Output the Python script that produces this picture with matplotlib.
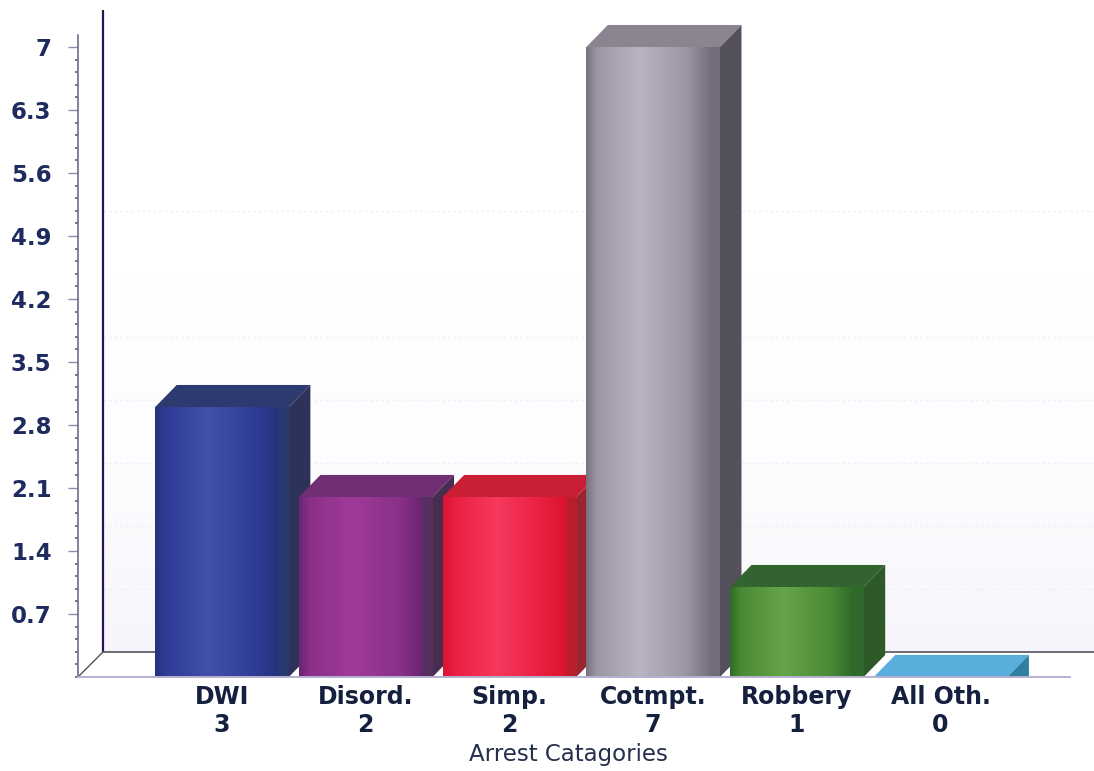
#!/usr/bin/env python
import numpy as np
import matplotlib
matplotlib.use('Agg')
import matplotlib.pyplot as plt
from matplotlib.colors import LinearSegmentedColormap
from matplotlib.patches import Polygon

categories = ['DWI', 'Disord.', 'Simp.', 'Cotmpt.', 'Robbery', 'All Oth.']
values = [3, 2, 2, 7, 1, 0]
tick_values = [0.7, 1.4, 2.1, 2.8, 3.5, 4.2, 4.9, 5.6, 6.3, 7]
tick_labels = ['0.7', '1.4', '2.1', '2.8', '3.5', '4.2', '4.9', '5.6', '6.3', '7']
grid_values = [0.7, 1.4, 2.1, 2.8, 3.5, 4.9]

# edge, body, highlight, right strip, top, side
bar_colors = [
    ['#26337a', '#2f3c96', '#4350aa', '#28396f', '#2c3a70', '#2d3358'],
    ['#6a2570', '#8a3088', '#a03a98', '#55305f', '#6f2f72', '#4a2c50'],
    ['#d9142f', '#ea1e40', '#f5395e', '#b81f2c', '#c81f35', '#9a2530'],
    ['#787280', '#9c96a4', '#bab3c3', '#726d7a', '#8a8590', '#54505c'],
    ['#2f6a28', '#4a8a36', '#66a448', '#2f6a2c', '#33632e', '#2e5a28'],
    ['#4f9fd0', '#4f9fd0', '#5aaedc', '#4f9fd0', '#5aaedc', '#2f7fa0'],
]

bar_width = 0.93
depth_x = 0.15
depth_y = 0.245
wall_x = -0.828
wall_y = 0.278
x_lim = (-1.002, 6.068)
y_lim = (0, 7.467)

fig = plt.figure(figsize=(10.94, 7.71), dpi=100)
ax = fig.add_axes([78 / 1094, 94 / 771, 1016 / 1094, 672 / 771])

# back wall
wall_shade = LinearSegmentedColormap.from_list('wall', ['#f7f5fb', '#fdfcfe', '#ffffff'])
ax.imshow(np.linspace(0, 1, 256).reshape(-1, 1), cmap=wall_shade, aspect='auto', origin='lower',
          extent=(wall_x, x_lim[1], wall_y, 4.5), zorder=0)
for t in grid_values:
    ax.plot([wall_x, x_lim[1]], [t + wall_y, t + wall_y], color='#f0eff4', lw=1, ls=(0, (2, 2)), zorder=1)
ax.plot([wall_x, wall_x], [wall_y, 7.41], color='#2a1458', lw=1.6, zorder=2, solid_capstyle='butt')
ax.plot([wall_x, x_lim[1]], [wall_y, wall_y], color='#55525e', lw=1.2, zorder=2)
ax.plot([x_lim[0], wall_x], [0, wall_y], color='#55525e', lw=1, zorder=2)

for i, v in enumerate(values):
    left = i - bar_width / 2
    right = i + bar_width / 2
    c_edge, c_body, c_light, c_strip, c_top, c_side = bar_colors[i]
    z = 3 + i
    if v > 0:
        side = [(right, 0), (right + depth_x, depth_y), (right + depth_x, v + depth_y), (right, v)]
    else:
        # flat bar, only a wedge is left of the side
        side = [(right, 0), (right + depth_x, depth_y), (right + depth_x, 0)]
    ax.add_patch(Polygon([(left, v), (right, v), (right + depth_x, v + depth_y), (left + depth_x, v + depth_y)],
                         closed=True, fc=c_top, ec='none', zorder=z))
    ax.add_patch(Polygon(side, closed=True, fc=c_side, ec='none', zorder=z))
    if v > 0:
        cmap = LinearSegmentedColormap.from_list('bar%d' % i, [
            (0, c_edge), (0.08, c_body), (0.4, c_light), (0.75, c_body), (0.92, c_edge), (0.93, c_strip), (1, c_strip)])
        ax.imshow(np.linspace(0, 1, 256).reshape(1, -1), cmap=cmap, aspect='auto',
                  extent=(left, right, 0, v), zorder=z + 0.5)

ax.set_xlim(x_lim)
ax.set_ylim(y_lim)

for s in ['top', 'right']:
    ax.spines[s].set_visible(False)
ax.spines['left'].set_color('#6f6c8c')
ax.spines['left'].set_bounds(0, 7.13)
ax.spines['left'].set_linewidth(1.2)
ax.spines['bottom'].set_color('#b4b0d0')
ax.spines['bottom'].set_bounds(x_lim[0], 5.9)
ax.spines['bottom'].set_linewidth(1.4)
ax.spines['bottom'].set_zorder(20)

ax.set_yticks(tick_values)
ax.set_yticklabels(tick_labels, fontsize=16.5, fontweight='bold', color='#1d2b5e')
ax.set_yticks(np.arange(0, 7.1, 0.14), minor=True)
ax.tick_params(axis='y', which='major', length=7, width=1, color='#8f8cad', pad=12)
ax.tick_params(axis='y', which='minor', length=2.5, width=1.2, color='#5e5c78')

ax.set_xticks(range(len(categories)))
ax.set_xticklabels(['%s\n%d' % (c, v) for c, v in zip(categories, values)],
                   fontsize=17, fontweight='bold', color='#15203e', linespacing=1.2)
ax.tick_params(axis='x', length=0, pad=6)

ax.set_xlabel('Arrest Catagories', fontsize=16.5, color='#25304e')
ax.xaxis.set_label_coords(490 / 1016, -66 / 672)

fig.savefig('out.png', dpi=100)
